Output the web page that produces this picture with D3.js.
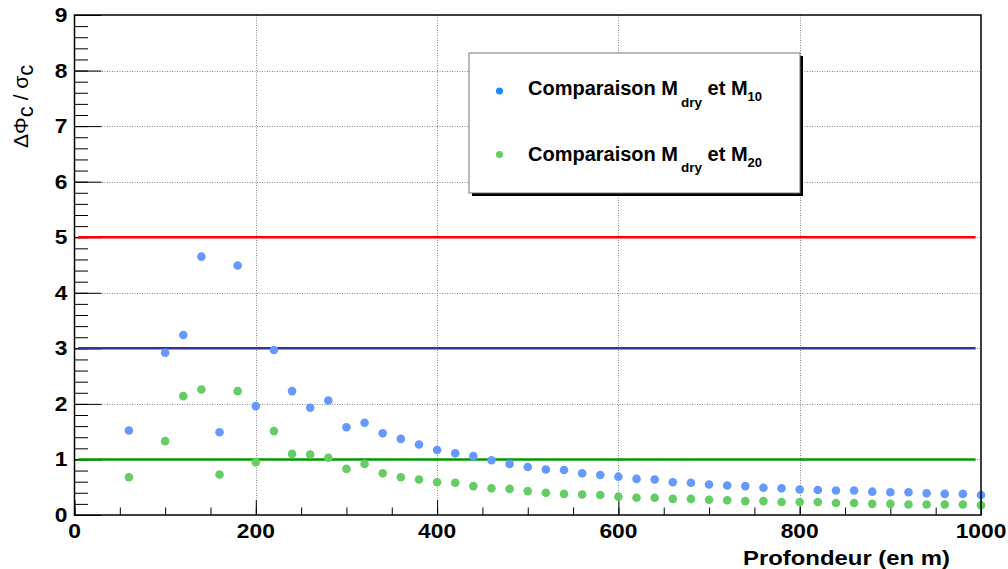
<!DOCTYPE html>
<html>
<head>
<meta charset="utf-8">
<script src="https://cdn.jsdelivr.net/npm/d3@7/dist/d3.min.js"></script>
<style>
  html, body { margin: 0; padding: 0; background: #fff; }
  svg { display: block; }
  text { font-family: "Liberation Sans", Arial, Helvetica, sans-serif; }
</style>
</head>
<body>
<svg id="chart" width="1008" height="569"></svg>
<script>
// ---------------- data ----------------
const depths = [60, 100, 120, 140, 160, 180, 200, 220, 240, 260, 280,
  300, 320, 340, 360, 380, 400, 420, 440, 460, 480,
  500, 520, 540, 560, 580, 600, 620, 640, 660, 680,
  700, 720, 740, 760, 780, 800, 820, 840, 860, 880,
  900, 920, 940, 960, 980, 1000];
const compM10 = [1.52, 2.92, 3.24, 4.65, 1.49, 4.49, 1.96, 2.97, 2.23, 1.93, 2.06,
  1.58, 1.66, 1.47, 1.37, 1.27, 1.17, 1.11, 1.06, 0.985, 0.92,
  0.865, 0.82, 0.81, 0.75, 0.72, 0.69, 0.65, 0.64, 0.59, 0.58,
  0.55, 0.53, 0.52, 0.49, 0.48, 0.46, 0.45, 0.44, 0.44, 0.42,
  0.41, 0.41, 0.39, 0.38, 0.38, 0.36];
const compM20 = [0.68, 1.33, 2.14, 2.26, 0.73, 2.23, 0.95, 1.51, 1.10, 1.09, 1.03,
  0.83, 0.92, 0.75, 0.68, 0.64, 0.59, 0.58, 0.52, 0.48, 0.47,
  0.43, 0.40, 0.38, 0.37, 0.36, 0.33, 0.31, 0.31, 0.29, 0.29,
  0.275, 0.265, 0.25, 0.25, 0.235, 0.235, 0.235, 0.215, 0.215, 0.20,
  0.20, 0.19, 0.19, 0.19, 0.19, 0.175];
const thresholds = [5, 3, 1];
const thresholdSpan = [4, 994];
const xTicks = [0, 200, 400, 600, 800, 1000];
const yTicks = [0, 1, 2, 3, 4, 5, 6, 7, 8, 9];
const legendLabels = [
  { main: "Comparaison M", sub1: "dry", mid: " et M", sub2: "10" },
  { main: "Comparaison M", sub1: "dry", mid: " et M", sub2: "20" }
];
const xTitle = "Profondeur (en m)";

// ---------------- styles ----------------
const seriesColors = ["#6699ff", "#66cc66"];
const legendColors = ["#1a8cff", "#66cc66"];
const thresholdColors = ["#ff0000", "#333399", "#009900"];

const svg = d3.select("#chart");
const L = 74.5, R = 981, T = 15, B = 515;
const x = d3.scaleLinear().domain([0, 1000]).range([L, R]);
const y = d3.scaleLinear().domain([0, 9]).range([B, T]);

// grid
const grid = svg.append("g").attr("stroke", "#888").attr("stroke-width", 1)
  .attr("stroke-dasharray", "1,1.5");
grid.selectAll("line.gx").data(xTicks.slice(1, -1)).join("line")
  .attr("x1", d => Math.round(x(d)) + 0.5).attr("x2", d => Math.round(x(d)) + 0.5)
  .attr("y1", T).attr("y2", B);
grid.selectAll("line.gy").data(yTicks.slice(1, -1)).join("line")
  .attr("y1", d => Math.round(y(d)) + 0.5).attr("y2", d => Math.round(y(d)) + 0.5)
  .attr("x1", L).attr("x2", R);

// axes with d3 (ticks inside the frame)
const xMinor = d3.range(0, 1001, 50);
const yMinor = d3.range(0, 9.001, 0.2);
svg.append("g").attr("transform", `translate(0,${B})`)
  .call(d3.axisTop(x).tickValues(xMinor).tickSize(7.5).tickFormat(""))
  .call(g => g.select(".domain").remove());
svg.append("g").attr("transform", `translate(0,${B})`)
  .call(d3.axisTop(x).tickValues(xTicks).tickSize(15).tickFormat(""))
  .call(g => g.select(".domain").remove());
svg.append("g").attr("transform", `translate(${L},0)`)
  .call(d3.axisRight(y).tickValues(yMinor).tickSize(13.5).tickFormat(""))
  .call(g => g.select(".domain").remove());
svg.append("g").attr("transform", `translate(${L},0)`)
  .call(d3.axisRight(y).tickValues(yTicks).tickSize(27).tickFormat(""))
  .call(g => g.select(".domain").remove());

// tick labels (reference glyphs are slightly wider than Liberation Sans)
svg.append("g").selectAll("text").data(xTicks).join("text")
  .attr("transform", d => `translate(${x(d)},537.5) scale(1.14,1)`)
  .attr("text-anchor", "middle").attr("font-weight", "bold").attr("font-size", 20)
  .text(d => d);
svg.append("g").selectAll("text").data(yTicks).join("text")
  .attr("transform", d => `translate(67.5,${y(d) + 7}) scale(1.14,1)`)
  .attr("text-anchor", "end").attr("font-weight", "bold").attr("font-size", 20)
  .text(d => d);

// threshold lines
svg.append("g").selectAll("line").data(thresholds).join("line")
  .attr("x1", x(thresholdSpan[0])).attr("x2", x(thresholdSpan[1]))
  .attr("y1", d => y(d)).attr("y2", d => y(d))
  .attr("stroke", (d, i) => thresholdColors[i]).attr("stroke-width", 2.5);

// points
[compM10, compM20].forEach((vals, si) => {
  svg.append("g").selectAll("circle").data(vals).join("circle")
    .attr("cx", (d, i) => x(depths[i])).attr("cy", d => y(d))
    .attr("r", 4.3).attr("fill", seriesColors[si]);
});

// frame
svg.append("rect").attr("x", L).attr("y", T).attr("width", R - L).attr("height", B - T)
  .attr("fill", "none").attr("stroke", "#000").attr("stroke-width", 1.5);

// legend
const lg = svg.append("g");
lg.append("rect").attr("x", 472).attr("y", 56).attr("width", 331).attr("height", 140).attr("fill", "#000");
lg.append("rect").attr("x", 469).attr("y", 53).attr("width", 331).attr("height", 140)
  .attr("fill", "#fff").attr("stroke", "#777").attr("stroke-width", 1);
const ly = [95, 160.5];
const my = [91, 154.5];
legendLabels.forEach((lab, i) => {
  lg.append("circle").attr("cx", 499.5).attr("cy", my[i]).attr("r", 3.6).attr("fill", legendColors[i]);
  const t = lg.append("text").attr("x", 528).attr("y", ly[i])
    .attr("font-weight", "bold").attr("font-size", 20);
  t.append("tspan").text(lab.main);
  t.append("tspan").attr("dx", 3).attr("dy", 11.5).attr("font-size", 13.5).text(lab.sub1);
  t.append("tspan").attr("dy", -11.5).text(lab.mid);
  t.append("tspan").attr("dy", 6).attr("font-size", 13).text(lab.sub2);
});

// x title
svg.append("text").attr("x", 950).attr("y", 565).attr("text-anchor", "end")
  .attr("font-weight", "bold").attr("font-size", 20)
  .attr("textLength", 207).attr("lengthAdjust", "spacingAndGlyphs")
  .text(xTitle);

// y title
const yt = svg.append("text").attr("transform", "translate(27.5,148) rotate(-90)")
  .attr("font-size", 21);
yt.append("tspan").text("ΔΦ");
yt.append("tspan").attr("dy", 5.5).attr("font-size", 22).text("c");
yt.append("tspan").attr("dy", -5.5).text(" / σ");
yt.append("tspan").attr("dy", 5.5).attr("font-size", 22).text("c");
</script>
</body>
</html>
